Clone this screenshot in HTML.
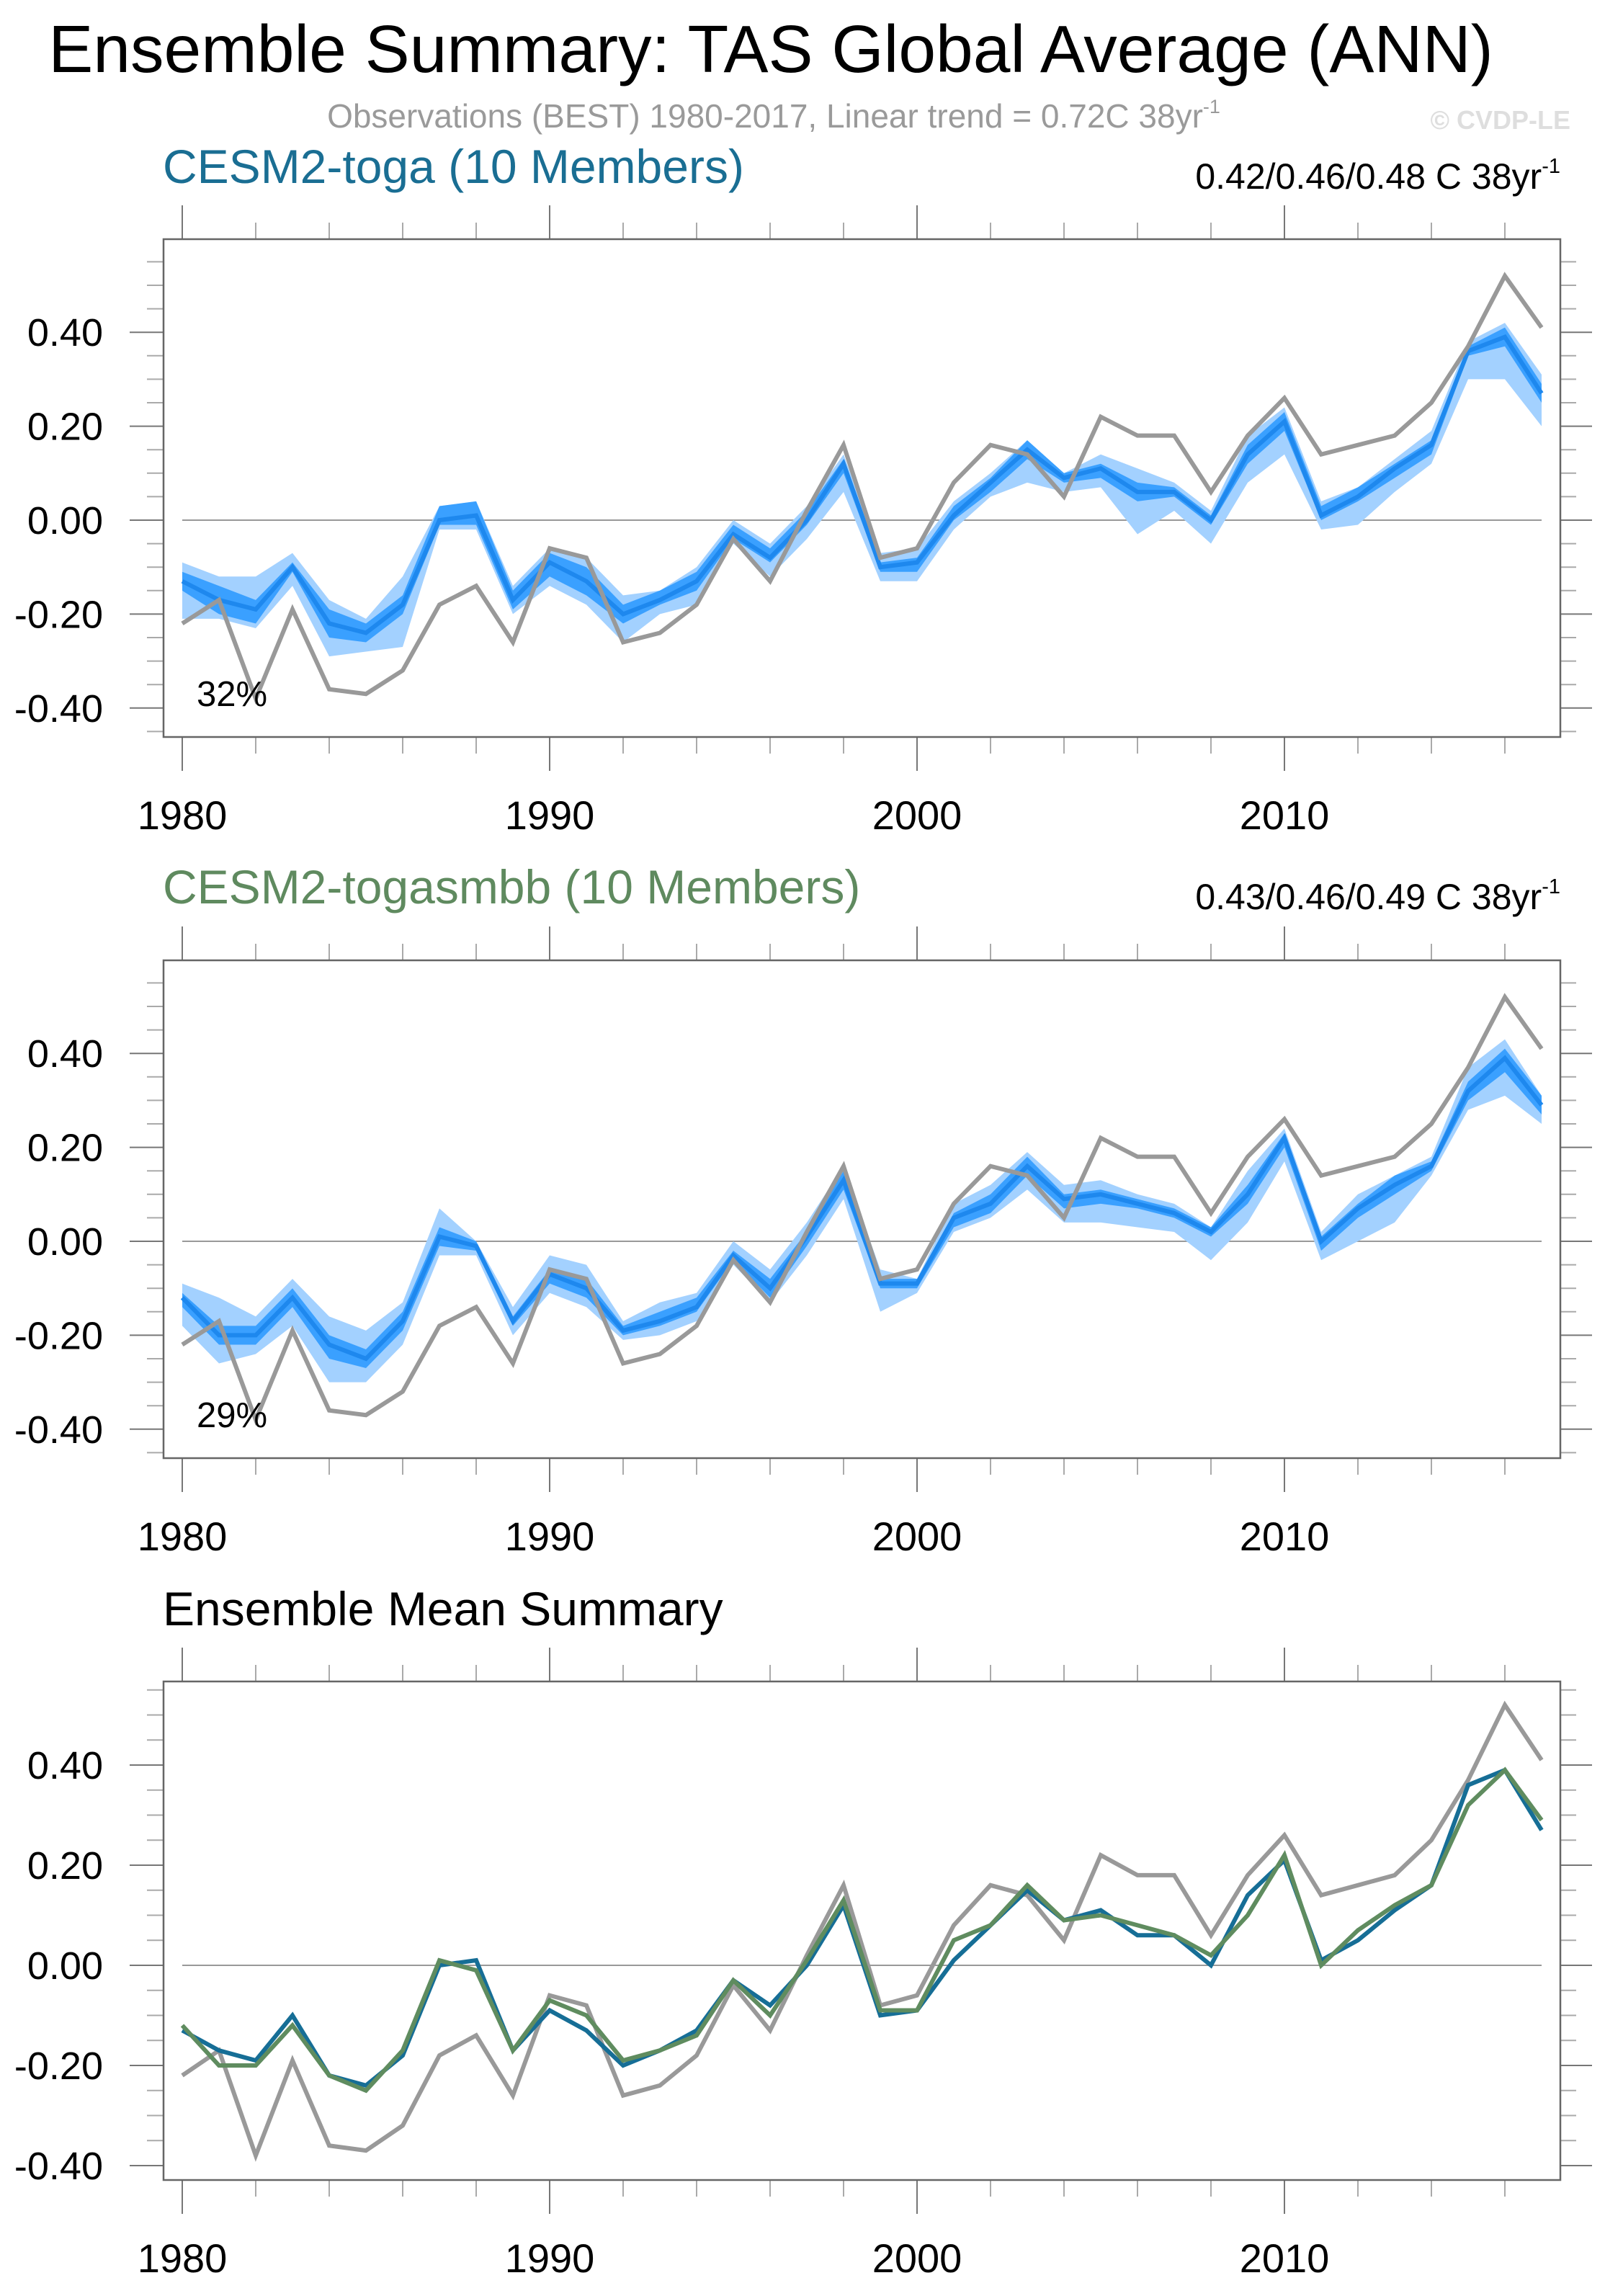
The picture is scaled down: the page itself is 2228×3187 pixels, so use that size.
<!DOCTYPE html>
<html><head><meta charset="utf-8">
<style>
html,body{margin:0;padding:0;background:#fff;}
svg{display:block;font-family:"Liberation Sans",sans-serif;}
</style></head>
<body>
<svg id="chart" width="2228" height="3187" viewBox="0 0 2228 3187" xmlns="http://www.w3.org/2000/svg">
<text x="1070" y="100" font-size="93" text-anchor="middle" fill="#000">Ensemble Summary: TAS Global Average (ANN)</text>
<text x="1074" y="177" font-size="46" text-anchor="middle" fill="#9a9a9a">Observations (BEST) 1980-2017, Linear trend = 0.72C 38yr<tspan dy="-20" font-size="27">-1</tspan></text>
<text x="2180" y="179" font-size="36" font-weight="bold" text-anchor="end" fill="#dedede">© CVDP-LE</text>
<text x="226" y="254" font-size="66" fill="#1a6e93">CESM2-toga (10 Members)</text>
<text x="2166" y="262" font-size="50" text-anchor="end" fill="#000">0.42/0.46/0.48 C 38yr<tspan dy="-22" font-size="29">-1</tspan></text>
<text x="226" y="1254" font-size="66" fill="#5f8a5f">CESM2-togasmbb (10 Members)</text>
<text x="2166" y="1262" font-size="50" text-anchor="end" fill="#000">0.43/0.46/0.49 C 38yr<tspan dy="-22" font-size="29">-1</tspan></text>
<text x="226" y="2256" font-size="66" fill="#000">Ensemble Mean Summary</text>
<g id="p1"></g>
<g id="p2"></g>
<g id="p3"></g>
</svg>
<script>
const years = [1980,1981,1982,1983,1984,1985,1986,1987,1988,1989,1990,1991,1992,1993,1994,1995,1996,1997,1998,1999,2000,2001,2002,2003,2004,2005,2006,2007,2008,2009,2010,2011,2012,2013,2014,2015,2016,2017];
const obs = [-0.22,-0.17,-0.38,-0.19,-0.36,-0.37,-0.32,-0.18,-0.14,-0.26,-0.06,-0.08,-0.26,-0.24,-0.18,-0.04,-0.13,0.02,0.16,-0.08,-0.06,0.08,0.16,0.14,0.05,0.22,0.18,0.18,0.06,0.18,0.26,0.14,0.16,0.18,0.25,0.37,0.52,0.41];
const togaMean = [-0.13,-0.17,-0.19,-0.10,-0.22,-0.24,-0.18,0.00,0.01,-0.17,-0.09,-0.13,-0.20,-0.17,-0.13,-0.03,-0.08,0.00,0.12,-0.10,-0.09,0.01,0.08,0.15,0.09,0.11,0.06,0.06,0.00,0.14,0.21,0.01,0.05,0.11,0.16,0.36,0.39,0.27];
const togaOuterLo = [-0.21,-0.21,-0.23,-0.14,-0.29,-0.28,-0.27,-0.02,-0.02,-0.20,-0.14,-0.18,-0.26,-0.20,-0.18,-0.05,-0.12,-0.04,0.06,-0.13,-0.13,-0.02,0.05,0.08,0.06,0.07,-0.03,0.02,-0.05,0.08,0.14,-0.02,-0.01,0.06,0.12,0.30,0.30,0.20];
const togaOuterHi = [-0.09,-0.12,-0.12,-0.07,-0.17,-0.21,-0.12,0.03,0.04,-0.14,-0.06,-0.08,-0.16,-0.15,-0.10,0.00,-0.05,0.03,0.14,-0.07,-0.06,0.04,0.10,0.17,0.10,0.14,0.11,0.08,0.02,0.18,0.24,0.04,0.07,0.13,0.19,0.38,0.42,0.31];
const togaInnerLo = [-0.15,-0.20,-0.22,-0.11,-0.25,-0.26,-0.20,-0.01,-0.01,-0.19,-0.12,-0.16,-0.22,-0.18,-0.15,-0.04,-0.09,-0.01,0.10,-0.11,-0.11,0.00,0.06,0.13,0.08,0.09,0.04,0.05,-0.01,0.12,0.19,0.00,0.04,0.09,0.14,0.35,0.37,0.25];
const togaInnerHi = [-0.11,-0.14,-0.17,-0.09,-0.19,-0.22,-0.16,0.03,0.04,-0.15,-0.07,-0.10,-0.18,-0.15,-0.11,-0.01,-0.06,0.02,0.13,-0.09,-0.08,0.03,0.09,0.17,0.10,0.12,0.08,0.07,0.01,0.16,0.23,0.03,0.07,0.12,0.17,0.37,0.41,0.29];
const smbbMean = [-0.12,-0.20,-0.20,-0.12,-0.22,-0.25,-0.17,0.01,-0.01,-0.17,-0.07,-0.10,-0.19,-0.17,-0.14,-0.03,-0.10,0.01,0.13,-0.09,-0.09,0.05,0.08,0.16,0.09,0.10,0.08,0.06,0.02,0.10,0.22,0.00,0.07,0.12,0.16,0.32,0.39,0.29];
const smbbOuterLo = [-0.18,-0.26,-0.24,-0.18,-0.30,-0.30,-0.22,-0.03,-0.03,-0.20,-0.11,-0.14,-0.21,-0.20,-0.17,-0.05,-0.13,-0.03,0.09,-0.15,-0.11,0.02,0.05,0.11,0.04,0.04,0.03,0.02,-0.04,0.04,0.17,-0.04,0.00,0.04,0.14,0.28,0.31,0.25];
const smbbOuterHi = [-0.09,-0.12,-0.16,-0.08,-0.16,-0.19,-0.13,0.07,0.00,-0.14,-0.03,-0.05,-0.17,-0.13,-0.11,0.00,-0.06,0.04,0.16,-0.06,-0.08,0.08,0.12,0.19,0.12,0.13,0.10,0.08,0.03,0.15,0.24,0.02,0.10,0.14,0.18,0.37,0.43,0.31];
const smbbInnerLo = [-0.14,-0.22,-0.22,-0.14,-0.25,-0.27,-0.19,-0.01,-0.02,-0.18,-0.09,-0.12,-0.20,-0.18,-0.15,-0.04,-0.12,-0.01,0.11,-0.10,-0.10,0.03,0.06,0.14,0.07,0.08,0.07,0.05,0.01,0.08,0.20,-0.02,0.05,0.10,0.15,0.30,0.36,0.27];
const smbbInnerHi = [-0.11,-0.18,-0.18,-0.10,-0.20,-0.23,-0.15,0.03,0.00,-0.16,-0.06,-0.08,-0.18,-0.15,-0.12,-0.02,-0.08,0.02,0.15,-0.08,-0.08,0.06,0.10,0.18,0.10,0.11,0.09,0.07,0.03,0.12,0.23,0.01,0.08,0.14,0.17,0.34,0.41,0.31];
const yTickValues = [-0.4,-0.2,0,0.2,0.4];
const yTickLabels = ["-0.40","-0.20","0.00","0.20","0.40"];
const xTickYears = [1980,1990,2000,2010];
const pctLabels = ["32%","29%"];

const NS = "http://www.w3.org/2000/svg";
function mk(parent, tag, attrs){const e=document.createElementNS(NS,tag);for(const k in attrs)e.setAttribute(k,attrs[k]);parent.appendChild(e);return e;}
const L=227,R=2166;
function panel(g, top, bottom, zeroY, pxPerUnit){
  const x = yr => 253 + (yr-1980)*51.0;
  const y = v => zeroY - v*pxPerUnit;
  const axes = {x,y};
  const vTop=(zeroY-top)/pxPerUnit, vBot=(zeroY-bottom)/pxPerUnit;
  for(let k=Math.ceil(vBot/0.05-1e-6);k*0.05<=vTop+1e-6;k++){
    const v=k*0.05, yy=y(v); const major=Math.abs(Math.round(v*100)%20)===0;
    const len=major?47:23;
    const t1=mk(g,'line',{x1:L-len,x2:L,y1:yy,y2:yy,stroke:major?'#777':'#aaa','stroke-width':2});
    
    
    const t2=mk(g,'line',{x1:R,x2:R+(major?44:22),y1:yy,y2:yy,stroke:major?'#777':'#aaa','stroke-width':2});
    
    
  }
  for(let yr=1980;yr<=2017;yr+=2){
    const major=(yr%10===0); const len=major?47:23;
    const t1=mk(g,'line',{x1:x(yr),x2:x(yr),y1:top-len,y2:top,stroke:major?'#777':'#aaa','stroke-width':2});
    
    
    const t2=mk(g,'line',{x1:x(yr),x2:x(yr),y1:bottom,y2:bottom+len,stroke:major?'#777':'#aaa','stroke-width':2});
    
    
  }
  yTickValues.forEach((v,i)=>{
    const t=mk(g,'text',{x:143,y:y(v)+19,'font-size':54,'text-anchor':'end',fill:'#000'});
    t.textContent=yTickLabels[i];
    
    
  });
  xTickYears.forEach(yr=>{
    const t=mk(g,'text',{x:x(yr),y:bottom+128,'font-size':56,'text-anchor':'middle',fill:'#000'});
    t.textContent=String(yr);
    
    
  });
  const z=mk(g,'line',{x1:x(1980),x2:x(2017),y1:y(0),y2:y(0),stroke:'#999','stroke-width':2});
  
  
  return axes;
}
function band(g,a,lo,hi,color,name){
  let d='M'+years.map((yr,i)=>a.x(yr)+','+a.y(hi[i])).join('L');
  d+='L'+years.map((yr,i)=>[a.x(yr),a.y(lo[i])]).reverse().map(p=>p.join(',')).join('L')+'Z';
  const p=mk(g,'path',{d,fill:color,stroke:'none'});
  
  
}
function line(g,a,vals,color,w,name){
  const d='M'+years.map((yr,i)=>a.x(yr)+','+a.y(vals[i])).join('L');
  const p=mk(g,'path',{d,fill:'none',stroke:color,'stroke-width':w,'stroke-linejoin':'miter'});
  
  
}
function frame(g,top,bottom){
  const r=mk(g,'rect',{x:L,y:top,width:R-L,height:bottom-top,fill:'none',stroke:'#666','stroke-width':2.5});
  
  
}
function pct(g,yy,txt){
  const t=mk(g,'text',{x:273,y:yy,'font-size':49,fill:'#000'});
  t.textContent=txt;
  
  
}

const g1=document.getElementById('p1');
const a1=panel(g1,332,1023,722,652);
band(g1,a1,togaOuterLo,togaOuterHi,'#a3d1ff','toga-range-band');
band(g1,a1,togaInnerLo,togaInnerHi,'#3aa0ff','toga-iqr-band');
line(g1,a1,togaMean,'#1e88ee',6,'toga-mean-line');
line(g1,a1,obs,'#999999',6,'obs-line');
pct(g1,980,pctLabels[0]);
frame(g1,332,1023);

const g2=document.getElementById('p2');
const a2=panel(g2,1333,2024,1723,652);
band(g2,a2,smbbOuterLo,smbbOuterHi,'#a3d1ff','smbb-range-band');
band(g2,a2,smbbInnerLo,smbbInnerHi,'#3aa0ff','smbb-iqr-band');
line(g2,a2,smbbMean,'#1e88ee',6,'smbb-mean-line');
line(g2,a2,obs,'#999999',6,'obs-line');
pct(g2,1981,pctLabels[1]);
frame(g2,1333,2024);

const g3=document.getElementById('p3');
const a3=panel(g3,2334,3026,2728,695);
line(g3,a3,obs,'#999999',6,'obs-line');
line(g3,a3,togaMean,'#166e96',6,'toga-mean-line');
line(g3,a3,smbbMean,'#5f8c5f',6,'smbb-mean-line');
frame(g3,2334,3026);
</script>
</body></html>
